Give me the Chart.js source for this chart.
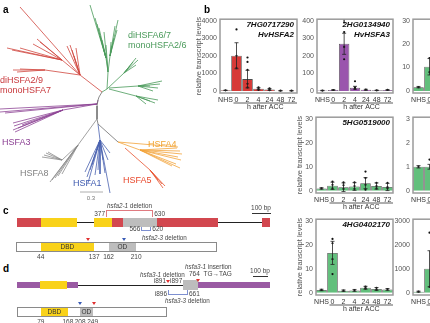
<!DOCTYPE html>
<html>
<head>
<meta charset="utf-8">
<script src="https://cdn.jsdelivr.net/npm/chart.js@4.4.1/dist/chart.umd.min.js"></script>
<style>
html, body { margin: 0; padding: 0; background: #fff; }
body { width: 430px; height: 323px; overflow: hidden; position: relative; font-family: "Liberation Sans", Arial, sans-serif; }
.abs { position: absolute; white-space: nowrap; box-sizing: border-box; }
canvas { position: absolute; }
</style>
</head>
<body>
<script>
// ---- expression data (relative transcript levels) ----
const hours = ["NHS", "0", "2", "4", "24", "48", "72"];

const a2Mean = [30, 2000, 670, 120, 80, 10, 10];
const a2Err = [10, 740, 500, 60, 50, 5, 5];
const a2Reps = [[30], [3500, 2000, 1300], [1900, 1650, 1200, 400, 200], [200, 120, 60], [150, 90, 40], [10], [10]];
const a2Ticks = [0, 1000, 2000, 3000, 4000];

const a3Mean = [2, 5, 268, 18, 6, 3, 5];
const a3Err = [1, 2, 60, 8, 3, 1, 2];
const a3Reps = [[2], [5], [405, 390, 335, 250, 180], [55, 20, 12], [8], [3], [6]];
const a3Ticks = [0, 100, 200, 300, 400];

const g519Mean = [1.0, 2.1, 1.5, 1.8, 3.2, 2.0, 1.6];
const g519Err = [0.3, 1.5, 1.8, 1.6, 2.3, 1.3, 1.5];
const g519Reps = [[1], [3.8, 2.5, 1], [3.5, 2.3, 0.8], [3.5, 2, 0.8], [8, 5.3, 2.5, 0.5], [3.3, 2, 1], [3.3, 1.5, 1]];

const g402Mean = [1.2, 16.6, 0.9, 1.0, 2.1, 1.6, 1.4];
const g402Err = [0.3, 4.8, 0.3, 0.4, 0.6, 0.6, 0.4];
const g402Reps = [[1.2], [22.4, 20.6, 14, 7.8], [0.9], [1.1], [2.6, 2.0, 1.8], [2.1, 1.3], [1.5]];

const tens = [0, 10, 20, 30];

// right-hand column (only the first bars are in view)
const r1Mean = [1.6, 10.3, null, null, null, null, null];
const r1Err = [0.3, 3.5, null, null, null, null, null];
const r1Reps = [[1.6], [14, 8], [], [], [], [], []];
const r2Mean = [1.0, 1.0, null, null, null, null, null];
const r2Err = [0.05, 0.1, null, null, null, null, null];
const r2Reps = [[1.0], [1.3], [], [], [], [], []];
const r2Ticks = [0, 1, 2, 3];
const r3Mean = [50, 1000, null, null, null, null, null];
const r3Err = [20, 750, null, null, null, null, null];
const r3Reps = [[50], [2500, 250], [], [], [], [], []];
const r3Ticks = [0, 1000, 2000, 3000];

// ---- gene / protein models ----
const a2Gene = [[-102, 27, "exon"], [27, 220, "dbd"], [220, 312, "intron"], [312, 409, "dbd"], [409, 468, "exon"],
  [468, 650, "od"], [650, 978, "exon"], [978, 1215, "intron"], [1215, 1258, "exon"]];
const a2Len = 350, a2Dbd = [44, 137], a2Od = [162, 210];
const a2Del1 = [377, 630], a2Del3 = [566, 620];
const a2Marks = [[126, "red"], [189, "blue"]];

const a3Gene = [[0, 153, "exon"], [153, 333, "dbd"], [333, 407, "exon"], [407, 1107, "intron"], [1107, 1207, "od"], [1207, 1687, "exon"]];
const a3Len = 493, a3Dbd = [79, 168], a3Od = [208, 249];
const a3Del1 = 1007, a3Ins = 1207, a3Del3 = [1007, 1140];
const a3Marks = [[208, "blue"], [253, "red"]];

// ---- tree branches, grouped by clade: polylines and fans [node, tips] ----
const treeGreenPaths = [[[102, 92], [107, 89], [108, 72], [106, 58]], [[108, 72], [110, 56]], [[107, 89], [124, 73]], [[109, 88], [138, 86]], [[109, 89], [136, 96]]];
const treeGreenFans = [[[106, 58], [[90, 5], [95, 18], [99, 28], [102, 40], [104, 50], [100, 36], [97, 24]]],
  [[110, 56], [[118, 20], [117, 30], [114, 38], [112, 46], [115, 26], [111, 42]]], [[108, 72], [[104, 32], [106, 45]]],
  [[124, 73], [[136, 58], [138, 60], [133, 62], [130, 66], [136, 65]]],
  [[138, 86], [[162, 81], [160, 84], [158, 88], [153, 91], [150, 86]]],
  [[136, 96], [[158, 100], [155, 103], [150, 101], [146, 104]]]];
const treeRedPaths = [[[102, 92], [80, 75], [62, 60]], [[80, 75], [45, 70]]];
const treeRedFans = [[[80, 75], [[20, 7], [67, 46], [70, 45], [72, 50], [74, 56], [76, 48]]],
  [[62, 60], [[37, 39], [40, 42], [7, 48], [12, 50], [20, 48], [33, 44]]], [[45, 70], [[13, 70], [17, 72], [20, 69]]]];
const treePurplePaths = [[[98, 100], [97, 104], [63, 110]]];
const treePurpleFans = [[[97, 104], [[0, 109], [0, 112], [5, 113]]], [[63, 110], [[13, 123], [14, 126], [13, 130], [15, 132], [18, 128], [22, 125]]]];
const treeBackbone = [[[102, 92], [99, 97], [98, 100], [97, 106], [97, 119], [98, 124], [118, 142]]];
const treeGreyPaths = [[[97, 119], [78, 145], [62, 160]]];
const treeGreyFans = [[[62, 160], [[42, 157], [44, 155], [46, 153], [48, 152]]], [[78, 145], [[50, 182], [52, 180], [55, 178], [58, 176], [62, 174]]]];
const treeBluePaths = [[[98, 124], [100, 140]]];
const treeBlueFans = [[[100, 140], [[87, 177], [88, 183], [85, 172], [90, 170], [92, 165], [95, 175], [98, 170], [100, 174], [103, 160], [105, 173], [108, 160], [110, 193], [110, 153], [97, 150]]]];
const treeOrangePaths = [[[118, 142], [140, 150]]];
const treeOrangeFans = [[[140, 150], [[177, 148], [180, 151], [182, 154], [178, 157], [181, 160], [176, 164], [180, 168], [172, 166]]], [[118, 142], [[178, 147]]]];
const treeA5Paths = [[[125, 148], [150, 170]]];
const treeA5Fans = [[[150, 170], [[165, 186], [162, 184], [158, 180], [163, 188]]]];
const treeScale = [[80, 192], [103, 192]];

// ---------- helpers ----------
function txt(html, x, y, size, color, align, extra) {
  const d = document.createElement("div");
  d.className = "abs";
  d.innerHTML = html;
  const tx = align === "center" ? "-50%" : align === "right" ? "-100%" : "0";
  d.style.cssText += `left:${x}px;top:${y}px;font-size:${size}px;line-height:${size + 1}px;color:${color};transform:translate(${tx},-50%);` + (extra || "");
  document.body.appendChild(d);
  return d;
}
function rect(x1, x2, yc, h, css) {
  const d = document.createElement("div");
  d.className = "abs";
  d.style.cssText += `left:${x1}px;width:${x2 - x1}px;top:${yc - h / 2}px;height:${h}px;` + css;
  document.body.appendChild(d);
  return d;
}
function tri(x, y, color) {
  const d = document.createElement("div");
  d.className = "abs";
  d.style.cssText += `left:${x - 2}px;top:${y - 1.5}px;width:0;height:0;border-left:2px solid transparent;border-right:2px solid transparent;border-top:3px solid ${color};`;
  document.body.appendChild(d);
}
function makeCanvas(x, y, w, h) {
  const c = document.createElement("canvas");
  c.width = w; c.height = h;
  c.style.left = x + "px"; c.style.top = y + "px";
  document.body.appendChild(c);
  return c;
}

// ---------- panel a: tree ----------
function branchPoints(paths, fans) {
  const pts = [];
  paths.forEach(p => { p.forEach(q => pts.push({ x: q[0], y: q[1] })); pts.push({ x: p[0][0], y: null }); });
  fans.forEach(([n, tips]) => tips.forEach(t => {
    pts.push({ x: n[0], y: n[1] }, { x: t[0], y: t[1] }, { x: n[0], y: null });
  }));
  return pts;
}
const treeSets = [
  [treeBackbone, [], "#6d6d6d"],
  [treeGreenPaths, treeGreenFans, "#4a9a5a"],
  [treeRedPaths, treeRedFans, "#d0463f"],
  [treePurplePaths, treePurpleFans, "#8e4596"],
  [treeGreyPaths, treeGreyFans, "#8a8a8a"],
  [treeBluePaths, treeBlueFans, "#4a62b0"],
  [treeOrangePaths, treeOrangeFans, "#f2a33a"],
  [treeA5Paths, treeA5Fans, "#e8532e"],
  [[treeScale], [], "#9a9a9a"]
];
new Chart(makeCanvas(0, 0, 200, 200), {
  type: "line",
  data: {
    datasets: treeSets.map(([p, f, col]) => ({
      data: branchPoints(p, f), borderColor: col, borderWidth: 0.8,
      pointRadius: 0, spanGaps: false, tension: 0
    }))
  },
  options: {
    responsive: false, animation: false, layout: { padding: 0 },
    scales: {
      x: { type: "linear", display: false, min: 0, max: 200 },
      y: { type: "linear", display: false, min: 0, max: 200, reverse: true }
    },
    plugins: { legend: { display: false }, tooltip: { enabled: false } }
  }
});
txt("diHSFA6/7", 128, 35, 9, "#4a9a5a");
txt("monoHSFA2/6", 128, 45, 9, "#4a9a5a");
txt("diHSFA2/9", 0, 80, 9, "#c8373b");
txt("monoHSFA7", 0, 90, 9, "#c8373b");
txt("HSFA3", 2, 142, 9, "#8b3f93");
txt("HSFA8", 20, 173, 9, "#808080");
txt("HSFA1", 73, 183, 9, "#3f5bb0");
txt("HSFA4", 148, 144, 9, "#f2a32f");
txt("HSFA5", 123, 180, 9, "#e8482c");
txt("0.3", 91, 198, 6, "#777", "center");
txt("a", 3, 9, 10, "#000", "left", "font-weight:bold;");
txt("b", 204, 9, 10, "#000", "left", "font-weight:bold;");
txt("c", 3, 210, 10, "#000", "left", "font-weight:bold;");
txt("d", 3, 268, 10, "#000", "left", "font-weight:bold;");

// ---------- panel b: bar charts ----------
const errorBars = {
  id: "errorBars",
  afterDatasetsDraw(chart, args, o) {
    const meta = chart.getDatasetMeta(0), ys = chart.scales.y, ctx = chart.ctx;
    ctx.save();
    ctx.strokeStyle = "#222"; ctx.lineWidth = 0.8;
    meta.data.forEach((bar, i) => {
      const m = chart.data.datasets[0].data[i], e = o.err[i];
      if (m == null || e == null) return;
      const y1 = ys.getPixelForValue(m - e), y2 = ys.getPixelForValue(m + e);
      ctx.beginPath();
      ctx.moveTo(bar.x, y1); ctx.lineTo(bar.x, y2);
      ctx.moveTo(bar.x - 2, y2); ctx.lineTo(bar.x + 2, y2);
      ctx.moveTo(bar.x - 2, y1); ctx.lineTo(bar.x + 2, y1);
      ctx.stroke();
    });
    ctx.restore();
  }
};
const frame = {
  id: "frame",
  afterDraw(chart, args, o) {
    const { ctx, chartArea: a, scales: { x } } = chart;
    ctx.save();
    ctx.strokeStyle = "#9b9b9b"; ctx.lineWidth = 1.5;
    ctx.strokeRect(a.left, a.top, a.right - a.left, a.bottom - a.top);
    ctx.fillStyle = "#111";
    ctx.font = 'italic bold 8px "Liberation Sans", Arial';
    ctx.textAlign = "right"; ctx.textBaseline = "middle";
    o.title.forEach((t, k) => ctx.fillText(t, a.right - 3, a.top + 6 + k * 10));
    const x0 = x.getPixelForValue(1) - 3, x1 = a.right;
    const yl = a.bottom + 10;
    ctx.strokeStyle = "#333"; ctx.lineWidth = 0.8;
    ctx.beginPath(); ctx.moveTo(x0, yl); ctx.lineTo(x1, yl); ctx.stroke();
    ctx.font = '7px "Liberation Sans", Arial';
    ctx.fillStyle = "#333"; ctx.textAlign = "center";
    ctx.fillText("h after ACC", (x0 + x1) / 2, yl + 4.5);
    if (o.yTitleGap) {
      ctx.translate(a.left - o.yTitleGap, (a.top + a.bottom) / 2);
      ctx.rotate(-Math.PI / 2);
      ctx.font = '7.5px "Liberation Sans", Arial';
      ctx.fillStyle = "#555";
      ctx.fillText("relative transcript levels", 0, 0);
    }
    ctx.restore();
  }
};

function barChart(box, mean, err, reps, ticks, color, title, yTitleGap) {
  const yw = 26, top = ticks[ticks.length - 1];
  const cv = makeCanvas(box.x - yw, box.y - 6, yw + box.w + 4, box.h + 6 + 22);
  const pts = [];
  reps.forEach((r, i) => r.forEach(v => pts.push({ x: hours[i], y: v })));
  new Chart(cv, {
    type: "bar",
    data: {
      labels: hours,
      datasets: [
        { type: "bar", data: mean, backgroundColor: color, borderColor: "rgba(45,45,45,0.85)", borderWidth: 0.8,
          barPercentage: 0.96, categoryPercentage: 1, order: 2 },
        { type: "line", data: pts, showLine: false, pointRadius: 1.1, pointBackgroundColor: "#111",
          pointBorderWidth: 0, order: 1 }
      ]
    },
    options: {
      responsive: false, animation: false,
      layout: { padding: { top: 6, right: 4, left: 0, bottom: 0 } },
      scales: {
        x: {
          grid: { display: false, drawTicks: false }, border: { display: false },
          ticks: { font: { size: 7, family: "Liberation Sans" }, color: "#333", padding: 3, maxRotation: 0, autoSkip: false },
          afterFit: s => { s.height = 22; }
        },
        y: {
          min: -0.03 * top, max: top * 1.02,
          grid: { display: false, drawTicks: false }, border: { display: false },
          ticks: { font: { size: 7, family: "Liberation Sans" }, color: "#555", padding: 3, callback: v => String(v) },
          afterBuildTicks: s => { s.ticks = ticks.map(v => ({ value: v })); },
          afterFit: s => { s.width = yw; }
        }
      },
      plugins: {
        legend: { display: false }, tooltip: { enabled: false },
        errorBars: { err: err },
        frame: { title: title, yTitleGap: yTitleGap }
      }
    },
    plugins: [errorBars, frame]
  });
}

const red = "#d63a37", purple = "#9a55ad", green = "#62bf7c";
barChart({ x: 220, y: 18, w: 77, h: 75 }, a2Mean, a2Err, a2Reps, a2Ticks, red, ["7HG0717290", "HvHSFA2"], 21);
barChart({ x: 317, y: 18, w: 76, h: 75 }, a3Mean, a3Err, a3Reps, a3Ticks, purple, ["2HG0134940", "HvHSFA3"], 0);
barChart({ x: 413, y: 18, w: 77, h: 75 }, r1Mean, r1Err, r1Reps, tens, green, [], 0);
barChart({ x: 316, y: 116, w: 77, h: 77 }, g519Mean, g519Err, g519Reps, tens, green, ["5HG0519000"], 16);
barChart({ x: 413, y: 116, w: 77, h: 77 }, r2Mean, r2Err, r2Reps, r2Ticks, green, [], 0);
barChart({ x: 316, y: 218, w: 77, h: 77 }, g402Mean, g402Err, g402Reps, tens, green, ["4HG0402170"], 16);
barChart({ x: 413, y: 218, w: 77, h: 77 }, r3Mean, r3Err, r3Reps, r3Ticks, green, [], 0);

// ---------- panels c and d: gene and protein models ----------
const fill = { exon: null, dbd: "#f9d21a", od: "#bdbdbd" };
function drawGene(model, bpX, yc, exonColor, hs) {
  model.forEach(([s, e, kind]) => {
    if (kind === "intron") rect(bpX(s), bpX(e), yc, 1, "background:#222;");
    else rect(bpX(s), bpX(e), yc, hs[kind], `background:${fill[kind] || exonColor};`);
  });
}
function drawProtein(len, dbd, od, aaX, yc) {
  rect(aaX(1), aaX(len), yc, 10, "background:#fff;border:1px solid #8a8a8a;");
  rect(aaX(dbd[0]), aaX(dbd[1]), yc, 8, "background:#f9d21a;");
  rect(aaX(od[0]), aaX(od[1]), yc, 8, "background:#bdbdbd;");
  txt("DBD", (aaX(dbd[0]) + aaX(dbd[1])) / 2, yc, 6.5, "#333", "center");
  txt("OD", (aaX(od[0]) + aaX(od[1])) / 2, yc, 6.5, "#333", "center");
  [dbd[0], dbd[1], od[0], od[1]].forEach(n => txt(String(n), aaX(n), yc + 9.5, 6.5, "#444", "center"));
}

// c: HvHSFA2
const bpC = bp => 36 + bp * 0.186;
const aaC = aa => 16 + (aa - 1) * 0.575;
drawGene(a2Gene, bpC, 222, "#d2474f", { exon: 9, dbd: 9, od: 9 });
rect(bpC(a2Del1[0]), bpC(a2Del1[1]), 213.5, 7, "border:1px solid #e07a80;border-bottom:none;");
txt("<i>hsfa2-1</i> deletion", bpC(a2Del1[0]) + 1, 206, 6.3, "#444");
txt(String(a2Del1[0]), bpC(a2Del1[0]) - 1, 214, 6.5, "#444", "right");
txt(String(a2Del1[1]), bpC(a2Del1[1]) + 1, 214, 6.5, "#444");
rect(bpC(a2Del3[0]), bpC(a2Del3[1]), 229, 4, "border:1px solid #7d8fd0;border-top:none;");
txt(String(a2Del3[0]), bpC(a2Del3[0]) - 1, 229, 6.5, "#444", "right");
txt(String(a2Del3[1]), bpC(a2Del3[1]) + 1, 229, 6.5, "#444");
txt("<i>hsfa2-3</i> deletion", 142, 238, 6.3, "#444");
txt("100 bp", 261, 208, 6.5, "#444", "center");
rect(252, 252 + 100 * 0.186, 213, 1, "background:#333;");
drawProtein(a2Len, a2Dbd, a2Od, aaC, 247);
a2Marks.forEach(([aa, c]) => tri(aaC(aa), 239, c === "red" ? "#e03030" : "#3a5bb5"));

// d: HvHSFA3
const bpD = bp => 17 + bp * 0.15;
const aaD = aa => 17 + (aa - 1) * 0.305;
drawGene(a3Gene, bpD, 285, "#9a5aa3", { exon: 6, dbd: 8, od: 10 });
txt("<i>hsfa3-1</i> deletion", 140, 275, 6.3, "#444");
txt("i891", bpD(a3Del1) - 2, 281, 6.5, "#444", "right");
txt("i897", bpD(a3Del1) + 2, 281, 6.5, "#444");
tri(bpD(a3Del1), 281, "#e03030");
txt("<i>hsfa3-1</i> insertion", 185, 267, 6.3, "#444");
txt("764&nbsp;&nbsp;TG\u2192TAG", 189, 274, 6.5, "#444");
tri(bpD(a3Ins), 280.5, "#e03030");
rect(bpD(a3Del3[0]), bpD(a3Del3[1]), 292, 5, "border:1px solid #7d8fd0;border-top:none;");
txt("i896", bpD(a3Del3[0]) - 1, 294, 6.5, "#444", "right");
txt("661", bpD(a3Del3[1]) + 1, 294, 6.5, "#444");
txt("<i>hsfa3-3</i> deletion", 165, 301, 6.3, "#444");
txt("100 bp", 260, 271, 6.5, "#444", "center");
rect(253, 253 + 100 * 0.15, 276, 1, "background:#333;");
drawProtein(a3Len, a3Dbd, a3Od, aaD, 312);
a3Marks.forEach(([aa, c]) => tri(aaD(aa), 303.5, c === "red" ? "#e03030" : "#3a5bb5"));
</script>
</body>
</html>
